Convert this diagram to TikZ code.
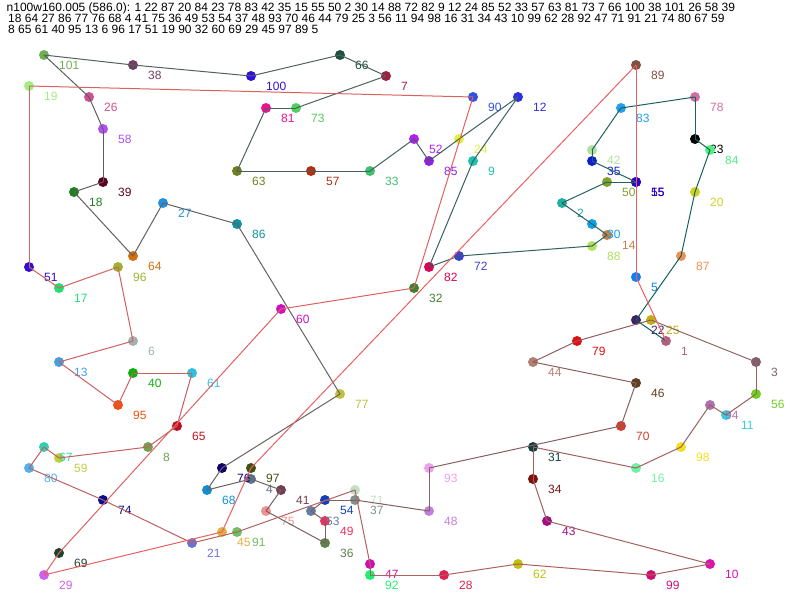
\documentclass[tikz,border=0pt]{standalone}
\usepackage{fontspec}
\setmainfont{Liberation Sans}
\usetikzlibrary{calc}
\tikzset{
x=1pt, y=-1pt, % one unit is one pixel, y grows downwards
city/.style={circle, inner sep=0pt, minimum size=10pt}, % the coloured dots
cityname/.style={anchor=west, inner sep=0pt, font=\fontsize{12}{12}\selectfont}, % number beside each dot
leg/.style={line width=1pt}, % one edge of the tour
headline/.style={anchor=base west, inner sep=0pt, font=\fontsize{12}{12}\selectfont}, % the text on top
}

\begin{document}
\begin{tikzpicture}
\useasboundingbox (0,0) rectangle (800,600);
% instance and tour
\node[headline] (head1) at (6.5,11) {n100w160.005 (586.0): 1 22 87 20 84 23 78 83 42 35 15 55 50 2 30 14 88 72 82 9 12 24 85 52 33 57 63 81 73 7 66 100 38 101 26 58 39};
\node[headline] (head2) at (8,22.3) {18 64 27 86 77 76 68 4 41 75 36 49 53 54 37 48 93 70 46 44 79 25 3 56 11 94 98 16 31 34 43 10 99 62 28 92 47 71 91 21 74 80 67 59};
\node[headline] (head3) at (8,33.6) {8 65 61 40 95 13 6 96 17 51 19 90 32 60 69 29 45 97 89 5};
% cities
\foreach \n/\x/\y/\c in {
  1/666/341/B06080, 2/562/203/20B0A0, 3/756/362/806070, 4/251/479/607090,
  5/636/277/1080F0, 6/133/341/A0B0B0, 7/386/76/A02040, 8/148/447/70A050,
  9/473/161/20C0B0, 10/710/564/E010B0, 11/726/415/30D0E0, 12/518/97/3030E0,
  13/59/362/40A0E0, 14/607/235/C08050, 15/636/182/2000C0, 16/636/468/70F0A0,
  17/59/288/20E070, 18/74/192/208020, 19/29/86/A0F080, 20/695/192/D0D020,
  21/192/543/7070D0, 22/636/320/402060, 23/695/139/000000, 24/459/139/E0F040,
  25/651/320/C0B010, 26/89/97/D05090, 27/163/203/2090E0, 28/444/575/E02050,
  29/44/575/D060F0, 30/592/224/10A0E0, 31/533/447/104040, 32/414/288/408030,
  33/370/171/40C070, 34/533/479/801010, 35/592/161/1020D0, 36/325/543/608050,
  37/355/500/809090, 38/133/65/704060, 39/103/182/600020, 40/133/373/10B010,
  41/281/490/704050, 42/592/150/B0E0A0, 43/547/521/A01080, 44/533/362/B08070,
  45/222/532/E0B040, 46/636/383/604020, 47/370/564/D010B0, 48/429/511/C080E0,
  49/325/521/F03060, 50/607/182/80A030, 51/29/267/3010D0, 52/414/139/B020F0,
  53/311/511/6080A0, 54/325/500/1040C0, 55/636/182/3000D0, 56/756/394/70D020,
  57/311/171/B03010, 58/103/129/B050F0, 59/59/458/C0D040, 60/281/309/D010C0,
  61/192/373/30C0E0, 62/518/564/C0C010, 63/237/171/708020, 64/133/256/D07010,
  65/177/426/C01020, 66/340/55/205040, 67/44/447/30D0B0, 68/207/490/1090D0,
  69/59/553/204030, 70/621/426/D04030, 71/355/490/C0E0C0, 72/459/256/4040D0,
  73/296/108/50D060, 74/103/500/001090, 75/266/511/F09090, 76/222/468/100070,
  77/340/394/C0C040, 78/695/97/D070A0, 79/577/341/E01010, 80/29/468/50B0F0,
  81/266/108/F01090, 82/429/267/E00050, 83/621/108/20A0F0, 84/710/150/50F080,
  85/429/161/9020E0, 86/237/224/1090A0, 87/681/256/F09050, 88/592/246/B0E060,
  89/636/65/805040, 90/473/97/3050E0, 91/237/532/70C060, 92/370/575/20F070,
  93/429/468/F0A0F0, 94/710/405/B070B0, 95/118/405/F05010, 96/118/267/A0B030,
  97/251/468/405010, 98/681/447/F0E020, 99/651/575/D01070, 100/251/76/3010E0,
  101/44/55/70B050}{
  \definecolor{citycol}{HTML}{\c}
  \node[city, fill=citycol] (n\n) at (\x,\y) {};
  \node[cityname, text=citycol] (l\n) at ($(n\n.center)+(15,10)$) {\n};
}
% the tour, teal at the start and red at the end
\foreach \b [remember=\b as \a (initially 1), count=\i] in {22,87,20,84,23,78,83,42,35,15,55,50,2,30,14,88,72,82,9,12,24,85,52,33,57,63,81,73,7,66,100,38,101,26,58,39,18,64,27,86,77,76,68,4,41,75,36,49,53,54,37,48,93,70,46,44,79,25,3,56,11,94,98,16,31,34,43,10,99,62,28,92,47,71,91,21,74,80,67,59,8,65,61,40,95,13,6,96,17,51,19,90,32,60,69,29,45,97,89,5,1}{
  \pgfmathtruncatemacro\r{16+2.24*(\i-1)}
  \definecolor{legcol}{RGB}{\r,96,96}
  \draw[leg, legcol] (n\a.center) -- (n\b.center);
}
\end{tikzpicture}
\end{document}
